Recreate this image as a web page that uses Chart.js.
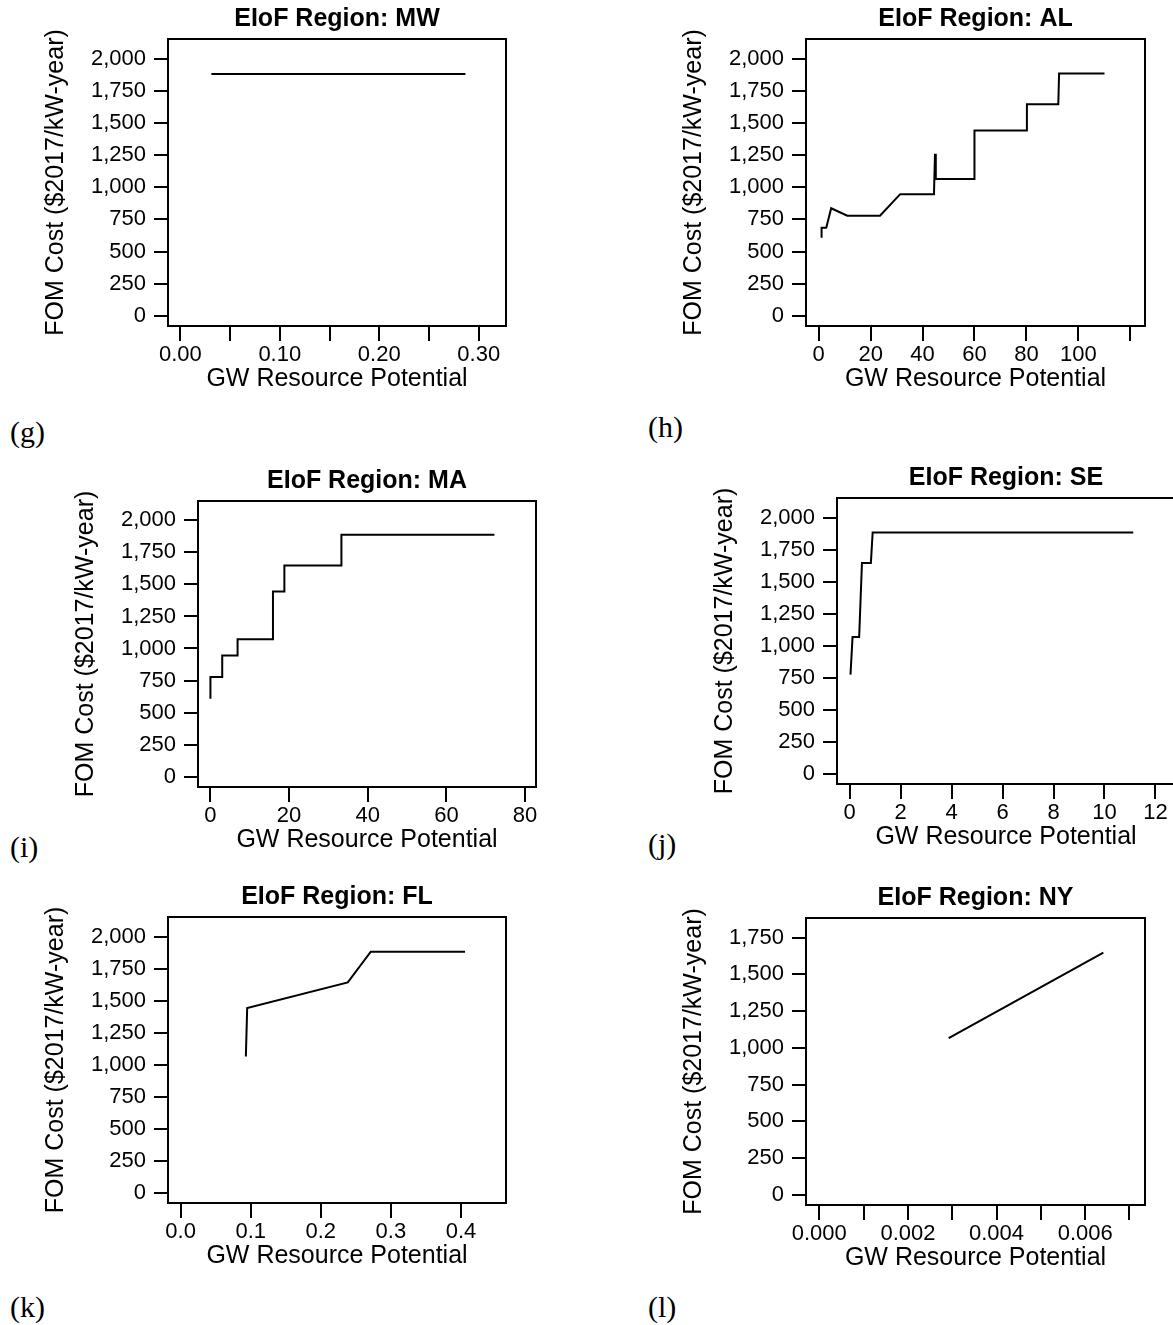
<!DOCTYPE html>
<html><head><meta charset="utf-8">
<script src="https://cdn.jsdelivr.net/npm/chart.js@4.4.1/dist/chart.umd.min.js"></script>
<style>
html,body{margin:0;padding:0;background:#fff;width:1173px;height:1325px;overflow:hidden;position:relative}
canvas{position:absolute;display:block}
.pl{position:absolute;font-family:'Liberation Serif','Times New Roman',serif;font-size:30px;color:#000;line-height:30px;white-space:nowrap}
</style></head><body>
<script>
// ---- data ----
const regions = ['MW','AL','MA','SE','FL','NY'];
const panelTags = ['(g)','(h)','(i)','(j)','(k)','(l)'];

const mwX = [0.0312, 0.2866];
const mwY = [1883, 1883];

const alX = [1.1, 1.1, 2.9, 4.8, 11.0, 23.6, 31.4, 44.4, 44.8, 45.1, 60.0, 60.0, 80.2, 80.2, 92.3, 92.6, 110.1];
const alY = [608, 686, 686, 837, 779, 779, 947, 947, 1262, 1066, 1066, 1443, 1443, 1648, 1648, 1888, 1888];

const maX = [0, 0, 3.0, 3.0, 6.9, 6.9, 15.8, 15.9, 18.8, 18.8, 33.3, 33.3, 72.2];
const maY = [608, 778, 778, 945, 945, 1073, 1073, 1444, 1444, 1648, 1648, 1888, 1888];

const seX = [0.03, 0.11, 0.37, 0.48, 0.83, 0.90, 11.13];
const seY = [774, 1069, 1069, 1648, 1648, 1887, 1887];

const flX = [0.0931, 0.095, 0.2385, 0.2713, 0.4057];
const flY = [1065, 1444, 1645, 1885, 1885];

const nyX = [0.00292, 0.00641];
const nyY = [1066, 1648];

// ---- tick labels ----
const yTicks = [0, 250, 500, 750, 1000, 1250, 1500, 1750, 2000];
const yTicksNY = [0, 250, 500, 750, 1000, 1250, 1500, 1750];
const mwTicks = [0, 0.05, 0.10, 0.15, 0.20, 0.25, 0.30];
const mwLabeled = [0, 0.10, 0.20, 0.30];
const alTicks = [0, 20, 40, 60, 80, 100, 120];
const alLabeled = [0, 20, 40, 60, 80, 100];
const maTicks = [0, 20, 40, 60, 80];
const seTicks = [0, 2, 4, 6, 8, 10, 12];
const flTicks = [0, 0.1, 0.2, 0.3, 0.4];
const nyTicks = [0, 0.001, 0.002, 0.003, 0.004, 0.005, 0.006, 0.007];
const nyLabeled = [0, 0.002, 0.004, 0.006];

const yTitle = 'FOM Cost ($2017/kW-year)';
const xTitle = 'GW Resource Potential';
const titlePrefix = 'EIoF Region: ';

// ---- layout (page pixels of each plot box, axis ranges) ----
const F = "'Liberation Sans', Arial, Helvetica, sans-serif";
const panels = [
  {x: mwX, y: mwY, xt: mwTicks, xl: mwLabeled, dec: 2, yt: yTicks, box: [168, 39.3, 506, 326], xr: [-0.01237, 0.3274], yr: [-80.4, 2156], tag: [10, 417]},
  {x: alX, y: alY, xt: alTicks, xl: alLabeled, dec: 0, yt: yTicks, box: [806, 39.3, 1144.7, 326], xr: [-4.9, 125.7], yr: [-80.4, 2156], tag: [648, 412]},
  {x: maX, y: maY, xt: maTicks, xl: maTicks, dec: 0, yt: yTicks, box: [198.3, 500.7, 536, 786.4], xr: [-3.16, 82.77], yr: [-81, 2151], tag: [10, 832]},
  {x: seX, y: seY, xt: seTicks, xl: seTicks, dec: 0, yt: yTicks, box: [836.6, 498.3, 1175, 784.5], xr: [-0.5, 12.77], yr: [-82, 2156], tag: [648, 829]},
  {x: flX, y: flY, xt: flTicks, xl: flTicks, dec: 1, yt: yTicks, box: [167.7, 916.7, 506, 1202.3], xr: [-0.01796, 0.4642], yr: [-81, 2157], tag: [10, 1292]},
  {x: nyX, y: nyY, xt: nyTicks, xl: nyLabeled, dec: 3, yt: yTicksNY, box: [806, 917.7, 1144.7, 1204.3], xr: [-0.0003, 0.00735], yr: [-70, 1884], tag: [648, 1292]}
];

const frame = {
  id: 'frame',
  afterDraw(c) {
    const a = c.chartArea, ctx = c.ctx;
    ctx.save();
    ctx.strokeStyle = '#000';
    ctx.lineWidth = 2;
    ctx.strokeRect(a.left, a.top, a.right - a.left, a.bottom - a.top);
    ctx.restore();
  }
};

Chart.defaults.color = '#000';

panels.forEach((p, i) => {
  const WY = 130, TOP = 40, BOT = 75, RP = 10;
  const bw = p.box[2] - p.box[0], bh = p.box[3] - p.box[1];
  const w = Math.round(WY + bw + RP), h = Math.round(TOP + bh + BOT);
  const cv = document.createElement('canvas');
  cv.width = w; cv.height = h;
  cv.style.width = w + 'px'; cv.style.height = h + 'px';
  cv.style.left = (p.box[0] - WY) + 'px';
  cv.style.top = (p.box[1] - TOP) + 'px';
  document.body.appendChild(cv);

  const tag = document.createElement('div');
  tag.className = 'pl';
  tag.textContent = panelTags[i];
  tag.style.left = p.tag[0] + 'px';
  tag.style.top = p.tag[1] + 'px';
  document.body.appendChild(tag);

  new Chart(cv, {
    type: 'scatter',
    data: {datasets: [{
      data: p.x.map((v, k) => ({x: v, y: p.y[k]})),
      showLine: true, borderColor: '#000', borderWidth: 2,
      pointRadius: 0, pointHoverRadius: 0, tension: 0, fill: false
    }]},
    options: {
      responsive: false, animation: false, devicePixelRatio: 1,
      events: [],
      layout: {padding: {top: TOP - 30 - 4.6, right: RP, left: 0, bottom: 0}},
      plugins: {
        legend: {display: false}, tooltip: {enabled: false},
        title: {display: true, text: titlePrefix + regions[i], fullSize: false, color: '#000',
          font: {family: F, size: 25, weight: 'bold', lineHeight: 1.2}, padding: {top: 0, bottom: 4.6}}
      },
      scales: {
        x: {
          type: 'linear', position: 'bottom', min: p.xr[0], max: p.xr[1],
          afterBuildTicks: s => { s.ticks = p.xt.map(v => ({value: v})); },
          afterFit: s => { s.height = BOT; },
          ticks: {
            autoSkip: false, maxRotation: 0, minRotation: 0, padding: 1, color: '#000',
            font: {family: F, size: 22, lineHeight: 1.2},
            callback: v => p.xl.some(t => Math.abs(t - v) < 1e-9) ? v.toFixed(p.dec) : ''
          },
          grid: {drawOnChartArea: false, drawTicks: true, tickLength: 15, color: '#000', lineWidth: 2},
          border: {display: false},
          title: {display: true, text: xTitle, color: '#000', font: {family: F, size: 25, lineHeight: 1.2}, padding: {top: 0, bottom: 6.6}}
        },
        y: {
          type: 'linear', position: 'left', min: p.yr[0], max: p.yr[1],
          afterBuildTicks: s => { s.ticks = p.yt.map(v => ({value: v})); },
          afterFit: s => { s.width = WY; },
          ticks: {
            autoSkip: false, padding: 8, color: '#000',
            font: {family: F, size: 22, lineHeight: 1.2},
            callback: v => v.toLocaleString('en-US')
          },
          grid: {drawOnChartArea: false, drawTicks: true, tickLength: 14, color: '#000', lineWidth: 2},
          border: {display: false},
          title: {display: true, text: yTitle, color: '#000', font: {family: F, size: 25, lineHeight: 1.2}, padding: {top: 2.8, bottom: 0}}
        }
      }
    },
    plugins: [frame]
  });
});
</script>
</body></html>
